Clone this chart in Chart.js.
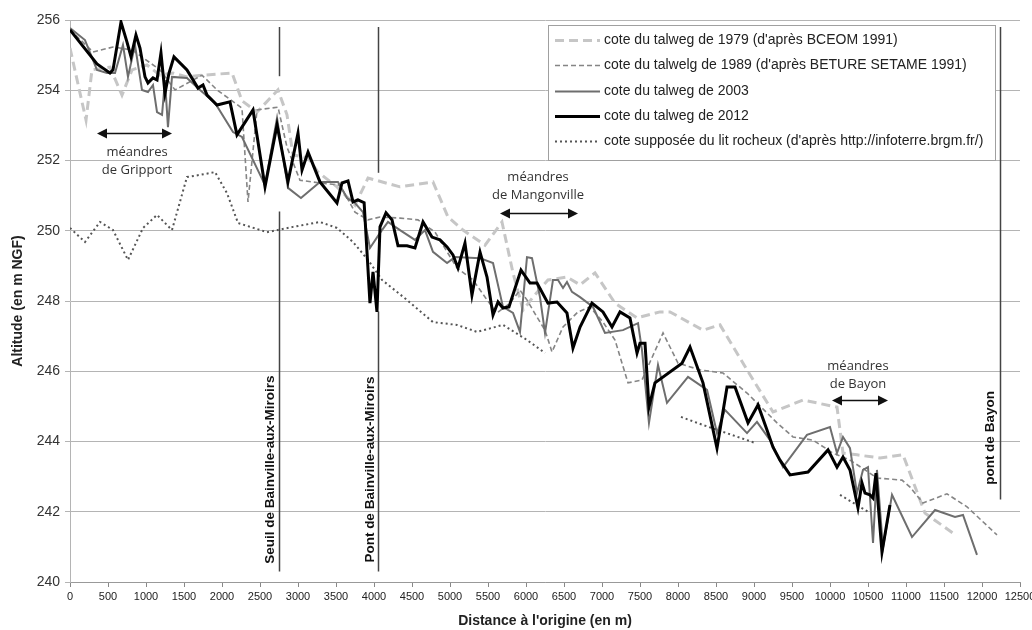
<!DOCTYPE html>
<html>
<head>
<meta charset="utf-8">
<script src="https://cdn.jsdelivr.net/npm/chart.js@4.4.0/dist/chart.umd.min.js"></script>
<style>
  html, body { margin: 0; padding: 0; background: #fff; }
  #wrap { width: 1032px; height: 630px; }
</style>
</head>
<body>
<div id="wrap"><canvas id="profileChart" width="1032" height="630"></canvas></div>
<script>
// x tick values (m)
var xTicks = [0, 12500, 500];
var yTicks = [240, 256, 2];

// cote du talweg de 1979 (BCEOM 1991)
var dist1979 = [0,211,289,526,684,816,1013,1184,1355,1539,1750,2132,2263,2461,2737,2855,2934,3132,3263,3513,3750,3921,4342,4776,4974,5171,5461,5684,5829,5961,6092,6289,6539,6711,6908,7171,7461,7763,7895,8329,8553,8908,9250,9645,10092,10171,10355,10658,10961,11250,11618];
var alt1979 = [255.20,253.15,254.58,254.66,253.86,254.58,254.72,254.43,254.49,254.38,254.43,254.49,253.7,253.38,254.01,253.30,252.16,252.07,251.67,251.25,250.73,251.50,251.25,251.39,250.39,250.02,249.59,250.25,248.80,247.74,248.11,248.60,248.68,248.46,248.80,247.94,247.52,247.69,247.69,247.17,247.32,246.04,244.84,245.18,244.98,243.67,243.62,243.53,243.62,241.96,241.39];

// cote du talweg de 1989 (BETURE SETAME 1991)
var dist1989 = [0,303,566,816,1184,1382,1737,1934,2263,2342,2461,2737,2855,3026,3289,3553,3750,3921,4079,4342,4579,4803,5092,5303,5487,5618,5789,5921,6013,6145,6250,6342,6487,6684,6842,7013,7171,7342,7526,7803,8000,8289,8592,8908,9303,9513,9776,10039,10263,10461,10618,10947,11053,11224,11539,11803,12197];
var alt1989 = [255.72,255.09,255.23,255.15,254.58,254.01,254.43,254.01,253.49,250.82,253.44,253.52,252.38,251.44,251.36,251.30,250.53,250.31,250.39,250.36,250.31,249.96,248.94,248.60,248.03,247.66,247.94,248.31,248.03,247.54,247.17,246.55,247.26,247.69,247.83,247.40,246.89,245.67,245.75,247.09,246.23,246.04,245.95,245.38,244.53,244.13,244.04,243.67,243.47,243.19,242.96,242.90,242.70,242.25,242.51,242.14,241.34];

// cote du talweg de 2003
var dist2003 = [0,197,355,487,592,697,763,855,947,1026,1092,1145,1211,1250,1289,1342,1539,1711,1908,2145,2263,2566,2724,2868,3039,3289,3526,3645,3750,3855,3947,4079,4184,4342,4539,4671,4776,4961,5066,5395,5566,5697,5829,5921,6013,6079,6184,6250,6355,6421,6487,6539,6605,6711,6882,7039,7276,7474,7526,7618,7737,7855,8132,8382,8513,8618,8908,9039,9211,9382,9697,10000,10092,10171,10263,10355,10434,10500,10566,10618,10697,10816,11079,11382,11645,11750,11934];
var alt2003 = [255.77,255.43,254.58,254.49,254.49,255.29,254.38,255.29,254.01,253.95,254.15,253.38,253.30,254.29,252.95,254.38,254.35,254.01,253.64,252.81,252.67,251.30,253.21,251.22,250.93,251.39,251.39,250.93,250.79,250.53,249.51,249.94,250.25,250.02,249.74,250.02,249.40,249.08,249.25,249.22,249.08,247.83,247.66,247.12,249.25,249.22,248.11,247.09,248.60,248.60,248.37,248.54,248.26,248.11,247.83,247.09,247.17,247.37,246.60,244.53,246.18,245.10,245.84,245.47,244.24,244.90,244.24,244.56,244.04,243.27,244.19,244.41,243.67,244.13,243.81,242.53,243.19,243.27,241.11,243.19,240.97,242.48,241.28,242.05,241.85,241.91,240.77];

// cote du talweg de 2012
var dist2012 = [0,355,434,526,566,671,750,803,868,921,987,1026,1092,1145,1197,1250,1303,1368,1539,1684,1750,1803,1934,2105,2197,2408,2566,2724,2868,3000,3053,3132,3289,3513,3579,3658,3724,3789,3870,3947,3987,4039,4079,4158,4237,4316,4434,4539,4645,4763,4868,4961,5039,5105,5197,5289,5395,5487,5566,5632,5697,5776,5934,6053,6145,6289,6408,6539,6618,6711,6868,7013,7132,7237,7368,7461,7500,7566,7618,7697,8053,8158,8329,8513,8645,8750,8921,9053,9171,9250,9342,9474,9711,9974,10092,10171,10263,10368,10421,10461,10526,10566,10605,10632,10684,10789];
var alt2012 = [255.72,254.75,254.63,254.49,254.58,255.94,255.37,254.95,255.57,255.20,254.38,254.21,254.35,254.29,255.06,253.92,254.49,254.95,254.58,254.06,254.15,253.86,253.58,253.67,252.73,253.44,251.25,253.01,251.39,252.78,251.73,252.24,251.39,250.79,251.36,251.42,250.82,250.88,250.80,247.94,248.83,247.69,250.11,250.51,250.31,249.57,249.57,249.51,250.25,249.82,249.74,249.54,249.31,248.94,249.65,248.17,249.39,248.68,247.60,247.97,247.80,247.83,248.88,248.51,248.51,247.94,247.97,247.66,246.66,247.26,247.94,247.69,247.26,247.69,247.52,246.52,246.80,246.80,244.98,245.67,246.23,246.69,245.67,243.81,245.55,245.55,244.53,245.04,244.33,243.84,243.47,243.05,243.13,243.76,243.27,243.56,243.19,242.11,242.82,242.53,242.48,242.39,243.10,242.25,240.85,242.19];

// cote supposée du lit rocheux (null = gap)
var distRock = [0,197,395,566,763,961,1145,1342,1539,1711,1908,2066,2211,2592,2934,3289,3513,3724,3921,4105,4434,4776,5092,5355,5697,6013,6250,6400,8039,8329,9013,9500,10132,10500];
var altRock = [250.08,249.68,250.25,250.02,249.17,250.08,250.45,250.02,251.53,251.59,251.67,251.07,250.22,249.96,250.11,250.25,250.08,249.68,249.17,248.60,248.03,247.40,247.32,247.12,247.32,246.89,246.52,null,244.70,244.47,243.96,null,242.48,242.00];

// landmarks: distance, [from, to] altitude segments
var landmarkNames = ["Seuil de Bainville-aux-Miroirs", "Pont de Bainville-aux-Miroirs", "pont de Bayon"];
var landmarkDist = [2750, 4050, 12240];
var landmarkSegs = [[[255.8, 254.4], [250.55, 240.3]], [[255.8, 251.65], [247.7, 240.3]], [[255.8, 242.35]]];
var landmarkLabelAt = [[2630, 243.2], [3950, 243.2], [12105, 244.1]];

// meanders: text lines, text anchor, arrow range
var meanderText = [["méandres", "de Gripport"], ["méandres", "de Mangonville"], ["méandres", "de Bayon"]];
var meanderTextAt = [[882, 252.24], [6158, 251.53], [10368, 246.15]];
var meanderArrow = [[355, 1342, 252.78], [5658, 6684, 250.51], [10026, 10763, 245.18]];

function toPoints(xs, ys) {
    return xs.map(function (x, i) { return { x: x, y: ys[i] }; });
}

var datasets = [
    { label: "cote du talweg de 1979 (d'après BCEOM 1991)", data: toPoints(dist1979, alt1979),
      borderColor: "#c6c6c6", borderWidth: 3, borderDash: [9, 5], order: 5 },
    { label: "cote du talwelg de 1989 (d'après BETURE SETAME 1991)", data: toPoints(dist1989, alt1989),
      borderColor: "#858585", borderWidth: 1.6, borderDash: [5, 3], order: 4 },
    { label: "cote du talweg de 2003", data: toPoints(dist2003, alt2003),
      borderColor: "#6e6e6e", borderWidth: 2, order: 3 },
    { label: "cote du talweg de 2012", data: toPoints(dist2012, alt2012),
      borderColor: "#000000", borderWidth: 3, order: 1 },
    { label: "cote supposée du lit rocheux (d'après http://infoterre.brgm.fr/)", data: toPoints(distRock, altRock),
      borderColor: "#555555", borderWidth: 2, borderDash: [2, 3], order: 2 }
];
datasets.forEach(function (ds) {
    ds.pointRadius = 0;
    ds.fill = false;
    ds.tension = 0;
    ds.spanGaps = false;
});

function drawArrowHead(ctx, x, y, dir) {
    ctx.beginPath();
    ctx.moveTo(x, y);
    ctx.lineTo(x - dir * 10, y - 5);
    ctx.lineTo(x - dir * 10, y + 5);
    ctx.closePath();
    ctx.fill();
}

var annotationsPlugin = {
    id: "annotations",
    beforeDatasetsDraw: function (chart) {
        const ctx = chart.ctx;
        const xs = chart.scales.x, ys = chart.scales.y;
        ctx.save();
        ctx.strokeStyle = "#444";
        ctx.lineWidth = 1.5;
        landmarkDist.forEach(function (d, i) {
            const px = Math.round(xs.getPixelForValue(d)) + 0.5;
            landmarkSegs[i].forEach(function (seg) {
                ctx.beginPath();
                ctx.moveTo(px, ys.getPixelForValue(seg[0]));
                ctx.lineTo(px, ys.getPixelForValue(seg[1]));
                ctx.stroke();
            });
        });
        ctx.restore();
    },
    afterDatasetsDraw: function (chart) {
        const ctx = chart.ctx;
        const xs = chart.scales.x, ys = chart.scales.y;
        ctx.save();
        // rotated landmark names
        ctx.fillStyle = "#111";
        ctx.font = "bold 13.5px 'Liberation Sans Narrow', 'Liberation Sans', Arial";
        ctx.textAlign = "center";
        ctx.textBaseline = "middle";
        landmarkNames.forEach(function (name, i) {
            ctx.save();
            ctx.translate(xs.getPixelForValue(landmarkLabelAt[i][0]), ys.getPixelForValue(landmarkLabelAt[i][1]));
            ctx.rotate(-Math.PI / 2);
            ctx.fillText(name, 0, 0);
            ctx.restore();
        });
        // meanders
        ctx.font = "13px 'Open Sans', 'Liberation Sans', Arial";
        ctx.fillStyle = "#333";
        meanderText.forEach(function (lines, i) {
            const tx = xs.getPixelForValue(meanderTextAt[i][0]);
            const ty = ys.getPixelForValue(meanderTextAt[i][1]);
            lines.forEach(function (t, k) {
                ctx.fillText(t, tx, ty + k * 18);
            });
            const a = meanderArrow[i];
            const x1 = xs.getPixelForValue(a[0]), x2 = xs.getPixelForValue(a[1]);
            const ay = Math.round(ys.getPixelForValue(a[2])) + 0.5;
            ctx.strokeStyle = "#111";
            ctx.fillStyle = "#111";
            ctx.lineWidth = 1.5;
            ctx.beginPath();
            ctx.moveTo(x1 + 6, ay);
            ctx.lineTo(x2 - 6, ay);
            ctx.stroke();
            drawArrowHead(ctx, x1, ay, -1);
            drawArrowHead(ctx, x2, ay, 1);
            ctx.fillStyle = "#333";
        });
        // legend box
        const bx = 548, by = 25, bw = 447, bh = 135;
        ctx.fillStyle = "#fff";
        ctx.fillRect(bx, by, bw, bh);
        ctx.strokeStyle = "#a0a0a0";
        ctx.lineWidth = 1;
        ctx.strokeRect(bx + 0.5, by + 0.5, bw, bh);
        ctx.font = "14px 'Liberation Sans', Arial";
        ctx.textAlign = "left";
        chart.data.datasets.forEach(function (ds, i) {
            const ly = Math.round(by + 15 + i * 25.3) + 0.5;
            ctx.save();
            ctx.strokeStyle = ds.borderColor;
            ctx.lineWidth = ds.borderWidth;
            ctx.setLineDash(ds.borderDash || []);
            ctx.beginPath();
            ctx.moveTo(bx + 7, ly);
            ctx.lineTo(bx + 52, ly);
            ctx.stroke();
            ctx.restore();
            ctx.fillStyle = "#222";
            ctx.fillText(ds.label, bx + 56, ly);
        });
        ctx.restore();
    }
};

Chart.defaults.font.family = "'Liberation Sans', Arial, sans-serif";
Chart.defaults.color = "#333";

var ctx = document.getElementById("profileChart").getContext("2d");
var profileChart = new Chart(ctx, {
    type: "line",
    data: { datasets: datasets },
    plugins: [annotationsPlugin],
    options: {
        responsive: false,
        animation: false,
        layout: { padding: { left: 0, right: 12, top: 20, bottom: 0 } },
        plugins: {
            legend: { display: false },
            tooltip: { enabled: false }
        },
        scales: {
            x: {
                type: "linear",
                min: xTicks[0],
                max: xTicks[1],
                ticks: {
                    stepSize: xTicks[2],
                    maxRotation: 0,
                    autoSkip: false,
                    font: { size: 11, family: "'Liberation Sans Narrow', 'Liberation Sans', Arial" },
                    color: "#222",
                    callback: function (v) { return String(v); }
                },
                grid: { drawOnChartArea: false, tickLength: 5, color: "#888" },
                border: { color: "#999" },
                title: {
                    display: true,
                    text: "Distance à l'origine (en m)",
                    font: { size: 14, weight: "bold", family: "'Liberation Sans Narrow', 'Liberation Sans', Arial" },
                    color: "#222",
                    padding: { top: 4, bottom: 0 }
                },
                afterFit: function (scale) {
                    scale.height = 48;
                    scale.paddingRight = 0;
                }
            },
            y: {
                min: yTicks[0],
                max: yTicks[1],
                ticks: {
                    stepSize: yTicks[2],
                    font: { size: 14 },
                    color: "#333",
                    padding: 5
                },
                grid: { color: "#b4b4b4", tickLength: 5, lineWidth: 1 },
                border: { color: "#b4b4b4" },
                title: {
                    display: true,
                    text: "Altitude (en m NGF)",
                    font: { size: 14, weight: "bold", family: "'Liberation Sans Narrow', 'Liberation Sans', Arial" },
                    color: "#222",
                    padding: { top: 10, bottom: 0 }
                },
                afterFit: function (scale) { scale.width = 70; }
            }
        }
    }
});
</script>
</body>
</html>
